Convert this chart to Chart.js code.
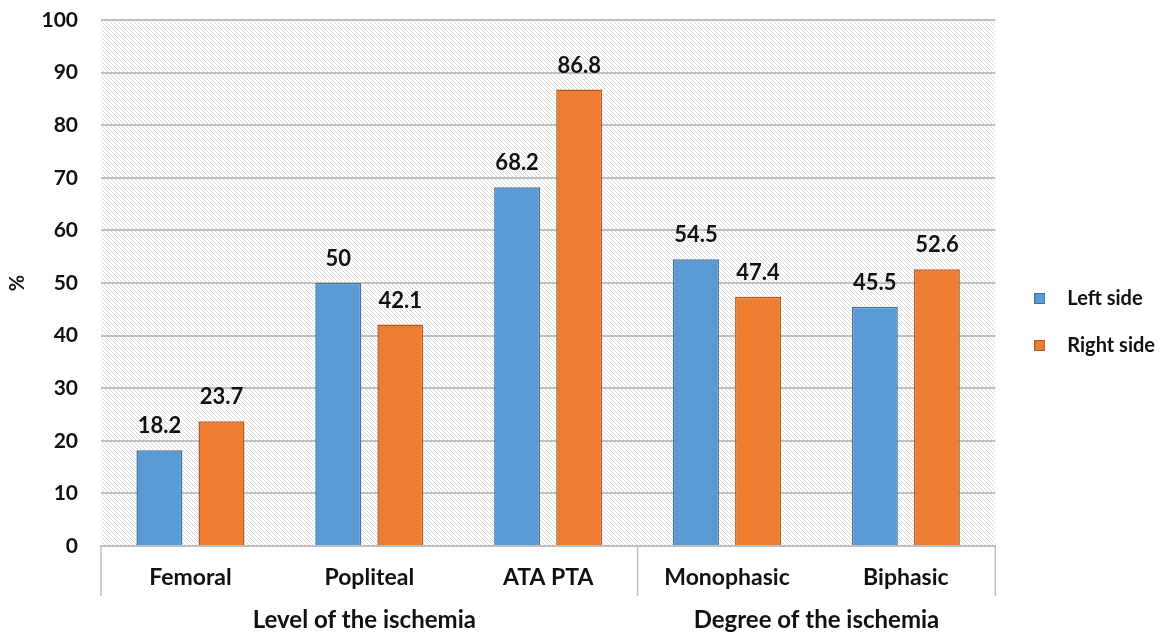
<!DOCTYPE html>
<html>
<head>
<meta charset="utf-8">
<script src="https://cdn.jsdelivr.net/npm/chart.js@4/dist/chart.umd.min.js"></script>
<style>
  html,body{margin:0;padding:0;background:#fff;}
  #wrap{width:1167px;height:634px;}
</style>
</head>
<body>
<div id="wrap"><canvas id="c" width="1167" height="634"></canvas></div>
<script>
const categories = ['Femoral', 'Popliteal', 'ATA PTA', 'Monophasic', 'Biphasic'];
const leftSide = [18.2, 50, 68.2, 54.5, 45.5];
const rightSide = [23.7, 42.1, 86.8, 47.4, 52.6];
const groups = [
  { label: 'Level of the ischemia', from: 0, to: 2 },
  { label: 'Degree of the ischemia', from: 3, to: 4 }
];
const yTicks = [0, 10, 20, 30, 40, 50, 60, 70, 80, 90, 100];

const FONT = 'Lato, "Open Sans", sans-serif';
const W = 'bold';
const BLUE = '#5b9bd5', ORANGE = '#ed7d31';

function hatch(){
  const s = 4;
  const p = document.createElement('canvas');
  p.width = s; p.height = s;
  const g = p.getContext('2d');
  g.fillStyle = '#ffffff';
  g.fillRect(0,0,s,s);
  g.strokeStyle = '#d9d9d9';
  g.lineWidth = 1;
  g.beginPath();
  g.moveTo(-1,-1); g.lineTo(s+1,s+1);
  g.moveTo(-1,s-1); g.lineTo(1,s+1);
  g.moveTo(s-1,-1); g.lineTo(s+1,1);
  g.stroke();
  return g.createPattern(p,'repeat');
}

// small square used as legend marker
function square(color, edge){
  const c = document.createElement('canvas');
  c.width = 11; c.height = 11;
  const g = c.getContext('2d');
  g.fillStyle = color;
  g.fillRect(0,0,11,11);
  g.strokeStyle = edge;
  g.lineWidth = 1;
  g.strokeRect(0.5,0.5,10,10);
  return c;
}
const markers = [square(BLUE,'#41719c'), square(ORANGE,'#ae5a21')];

const bgPlugin = {
  id:'bg',
  afterLayout(chart){
    const lg = chart.legend;
    if(lg){ lg.top -= 5; lg.bottom -= 5; }
  },
  beforeDraw(chart){
    const {ctx, chartArea:a} = chart;
    ctx.save();
    ctx.fillStyle = hatch();
    ctx.fillRect(a.left, a.top, a.right-a.left, a.bottom-a.top);
    ctx.restore();
  }
};

const labelPlugin = {
  id:'vals',
  afterDatasetsDraw(chart){
    const ctx = chart.ctx;
    ctx.save();
    ctx.font = W + ' 22px ' + FONT;
    ctx.fillStyle = '#111';
    ctx.textAlign = 'center';
    ctx.textBaseline = 'bottom';
    chart.data.datasets.forEach((ds,i)=>{
      chart.getDatasetMeta(i).data.forEach((bar,j)=>{
        ctx.fillText(String(ds.data[j]), bar.x, bar.y - 13);
      });
    });
    ctx.restore();
  }
};

const groupPlugin = {
  id:'groups',
  afterDraw(chart){
    const ctx = chart.ctx, x = chart.scales.x, a = chart.chartArea;
    const half = (x.getPixelForValue(1) - x.getPixelForValue(0))/2;
    const seps = [x.left, x.getPixelForValue(2)+half, x.right];
    ctx.save();
    ctx.strokeStyle = '#bfbfbf';
    ctx.lineWidth = 1.5;
    seps.forEach(px=>{
      ctx.beginPath();
      ctx.moveTo(px, a.bottom);
      ctx.lineTo(px, a.bottom + 50);
      ctx.stroke();
    });
    ctx.font = W + ' 24px ' + FONT;
    ctx.fillStyle = '#111';
    ctx.textAlign = 'center';
    ctx.textBaseline = 'middle';
    const shift = [-5, 0];
    groups.forEach((g,i)=>{
      const l = x.getPixelForValue(g.from) - half;
      const r = x.getPixelForValue(g.to) + half;
      ctx.fillText(g.label, (l+r)/2 + shift[i], a.bottom + 74);
    });
    ctx.restore();
  }
};

new Chart(document.getElementById('c'), {
  type:'bar',
  data:{
    labels: categories,
    datasets:[
      { label:'Left side', data:leftSide, backgroundColor:BLUE, borderColor:'#41719c', borderWidth:1.5,
        categoryPercentage:0.694, barPercentage:0.74 },
      { label:'Right side', data:rightSide, backgroundColor:ORANGE, borderColor:'#ae5a21', borderWidth:1.5,
        categoryPercentage:0.694, barPercentage:0.74 }
    ]
  },
  options:{
    responsive:false,
    animation:false,
    devicePixelRatio:1,
    layout:{ padding:{ top:20, left:6, right:2, bottom:0 } },
    plugins:{
      legend:{
        position:'right',
        labels:{
          usePointStyle:true, pointStyleWidth:35, boxHeight:11, padding:27, color:'#111',
          font:{ family:FONT, size:20, weight:W },
          generateLabels(chart){
            const items = Chart.defaults.plugins.legend.labels.generateLabels(chart);
            items.forEach((it,i)=>{ it.pointStyle = markers[i]; });
            return items;
          }
        }
      },
      tooltip:{ enabled:false }
    },
    scales:{
      x:{
        grid:{ display:false },
        border:{ display:true, color:'#bfbfbf', width:1.5 },
        ticks:{ color:'#111', padding:10, font:{ family:FONT, size:23, weight:W } },
        afterFit(s){ s.height = 88; s.paddingLeft = 0; s.paddingRight = 0; }
      },
      y:{
        min:0, max:100,
        afterBuildTicks(s){ s.ticks = yTicks.map(v=>({value:v})); },
        grid:{ color:'#c0c0c0', lineWidth:2, drawTicks:false },
        border:{ display:false },
        ticks:{ color:'#111', padding:23, font:{ family:FONT, size:21, weight:W } },
        title:{ display:true, text:'%', color:'#111', padding:{top:0,bottom:0}, font:{ family:FONT, size:20, weight:W } },
        afterFit(s){ s.width = 95; s.paddingTop = 0; s.paddingBottom = 0; }
      }
    }
  },
  plugins:[bgPlugin, labelPlugin, groupPlugin]
});
</script>
</body>
</html>
